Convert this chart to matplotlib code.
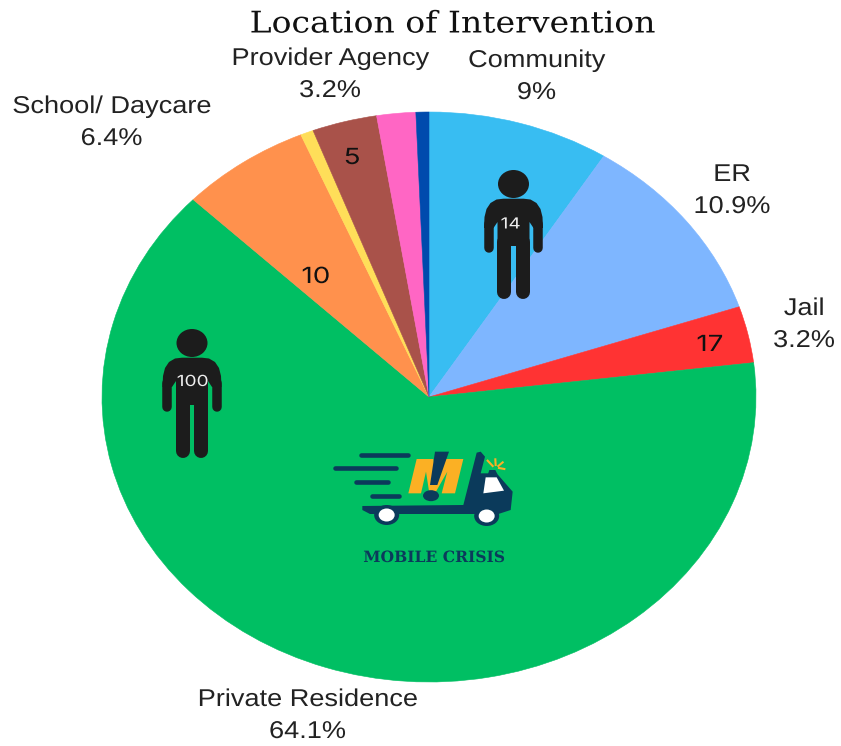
import matplotlib
matplotlib.use('Agg')
import matplotlib.pyplot as plt
from matplotlib.patches import Ellipse, Polygon
from matplotlib.patheffects import AbstractPathEffect
from matplotlib.transforms import Affine2D

W, H = 841, 746

# slices, clockwise from the top
slices = ['Community', 'ER', 'Jail', 'Private Residence', 'School/ Daycare',
          'Other 1', 'Provider Agency', 'Other 2', 'Other 3']
counts = [14, 17, 5, 100, 10, 1, 5, 3, 1]
colors = ['#38BDF2', '#7EB6FF', '#FF3333', '#00BF63', '#FF914D',
          '#FFDE59', '#A9524A', '#FF66C4', '#004AAD']

label_names = ['Provider Agency', 'Community', 'School/ Daycare', 'ER', 'Jail',
               'Private Residence']
label_pcts = ['3.2%', '9%', '6.4%', '10.9%', '3.2%', '64.1%']
label_xy = [(330, 74), (536.5, 76), (111.5, 122), (732, 190), (804, 324), (307.5, 715)]

count_text = ['10', '5', '17']
count_xy = [(316, 277), (352, 158), (710, 345)]


class Stretch(AbstractPathEffect):
    # the reference was widened after rendering, so widen the glyphs about x=cx
    def __init__(self, sx, cx):
        super().__init__()
        self.t = Affine2D().translate(-cx, 0).scale(sx, 1).translate(cx, 0)

    def draw_path(self, renderer, gc, tpath, affine, rgbFace=None):
        renderer.draw_path(gc, tpath, affine + self.t, rgbFace)


fig = plt.figure(figsize=(W / 100, H / 100), dpi=100)

# %% the pie is stretched, so it gets its own axes with free aspect
ax = fig.add_axes([102 / W, (H - 682) / H, 654 / W, 570 / H])
wedges, _ = ax.pie(counts, colors=colors, startangle=90, counterclock=False, radius=1)
for w in wedges:
    w.set_edgecolor(w.get_facecolor())
    w.set_linewidth(0.4)
ax.set_aspect('auto')
ax.set_xlim(-1, 1)
ax.set_ylim(-1, 1)

# %% overlay in picture pixels for texts and drawings
ov = fig.add_axes([0, 0, 1, 1])
ov.set_xlim(0, W)
ov.set_ylim(H, 0)
ov.axis('off')
ov.patch.set_alpha(0)


def wide_text(x, y, s, sx, **kw):
    ov.text(x, y, s, ha='center', va='center', path_effects=[Stretch(sx, x)], **kw)


wide_text(452.5, 24.5, 'Location of Intervention', 1.107, family='DejaVu Serif',
          fontsize=21.5, color='#111111')

for name, pct, (x, y) in zip(label_names, label_pcts, label_xy):
    wide_text(x, y - 15, name, 1.117, family='Liberation Sans', fontsize=17.5, color='#222222')
    wide_text(x, y + 17, pct, 1.117, family='Liberation Sans', fontsize=17.5, color='#222222')

for t, (x, y) in zip(count_text, count_xy):
    wide_text(x, y, t, 1.25, family='Inter', fontsize=16, color='#111111')


def person(cx, cy, n, nx, ny):
    dark = '#1C1C1C'
    px = 0.72  # points per pixel
    ov.add_patch(Ellipse((cx, cy), 31, 28, color=dark, lw=0))
    half = [(10, 14.7), (17, 15.5), (23, 19), (27, 25), (29, 33), (29.5, 44), (20, 44),
            (16, 38), (16, 62)]
    outline = [(cx + a, cy + b) for a, b in half] + [(cx - a, cy + b) for a, b in reversed(half)]
    ov.add_patch(Polygon(outline, color=dark, lw=0))
    for s in (-1, 1):
        ov.plot([cx + s * 24.7] * 2, [cy + 40, cy + 63.5], color=dark, lw=9.5 * px,
                solid_capstyle='round')
        ov.plot([cx + s * 9.3] * 2, [cy + 58, cy + 108], color=dark, lw=14 * px,
                solid_capstyle='round')
    wide_text(cx + nx, cy + ny, n, 1.25, color='#EEEEEE', fontsize=11, family='Inter')


person(513.5, 184, '14', -2.8, 40)
person(192, 343, '100', 0.7, 38.5)


# %% truck logo, points taken from a 3x crop starting at (320, 430)
def z(pts):
    return [(320 + a / 3, 430 + b / 3) for a, b in pts]


navy = '#0B3A5B'
amber = '#FBB024'
for x0, x1, y in [(122, 263, 75), (45, 228, 115), (108, 203, 156), (157, 236, 197)]:
    ov.plot(*zip(*z([(x0, y), (x1, y)])), color=navy, lw=3.3, solid_capstyle='round')

ov.add_patch(Polygon(z([(265, 190), (290, 87), (340, 87), (348, 130), (378, 87), (430, 87),
                        (405, 190), (365, 190), (382, 125), (345, 190), (328, 190), (318, 125),
                        (303, 190)]), color=amber, lw=0))
ov.add_patch(Polygon(z([(345, 65), (387, 65), (352, 165), (330, 165)]), color=navy, lw=0))
cx_dot, cy_dot = z([(333, 197)])[0]
ov.add_patch(Ellipse((cx_dot, cy_dot), 16, 11, color=navy, lw=0))

ov.add_patch(Polygon(z([(127, 228), (430, 225), (470, 68), (482, 65), (495, 80), (482, 130),
                        (530, 130), (578, 185), (572, 240), (535, 252), (460, 252), (230, 252),
                        (150, 252), (127, 240)]), color=navy, lw=0))
for wx, wy in z([(200, 255), (500, 258)]):
    ov.add_patch(Ellipse((wx, wy), 25, 20, color=navy, lw=0))
    ov.add_patch(Ellipse((wx, wy), 16, 13, color='white', lw=0))
ov.add_patch(Polygon(z([(497, 142), (530, 142), (552, 182), (490, 190)]), color='white', lw=0))
ov.add_patch(Polygon(z([(508, 120), (526, 120), (532, 132), (504, 132)]), color=navy, lw=0))
for a, b in [((518, 108), (503, 92)), ((527, 105), (526, 88)), ((535, 108), (548, 97)),
             ((537, 114), (553, 117))]:
    ov.plot(*zip(*z([a, b])), color=amber, lw=1.5)
wide_text(434, 557.5, 'MOBILE CRISIS', 1.0, family='DejaVu Serif', weight='bold', fontsize=11.2,
          color=navy)

fig.savefig('out.png', dpi=100)
